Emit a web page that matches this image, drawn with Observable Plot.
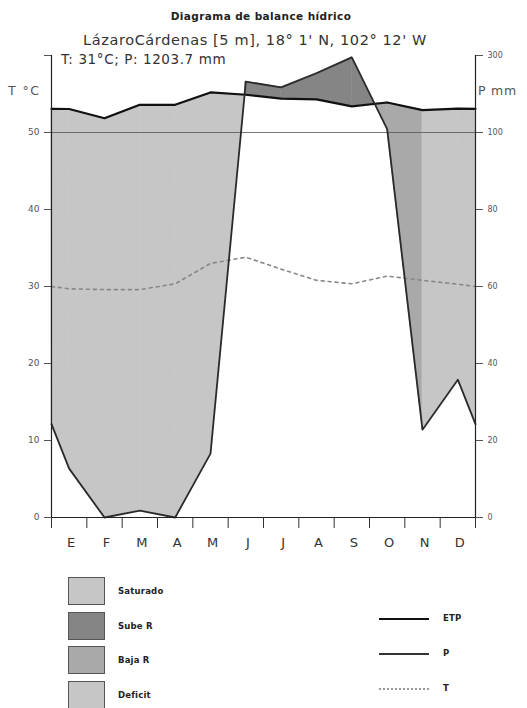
<!DOCTYPE html>
<html><head><meta charset="utf-8">
<script src="https://cdn.jsdelivr.net/npm/d3@7"></script>
<script src="https://cdn.jsdelivr.net/npm/@observablehq/plot@0.6"></script>
<style>
body{margin:0;background:#fff;font-family:"DejaVu Sans",sans-serif;}
#wrap{position:relative;width:527px;height:708px;overflow:hidden;background:#fff;}
#chart{position:absolute;left:0;top:0;}
.t{position:absolute;white-space:nowrap;color:#222;line-height:1;}
.box{position:absolute;width:35px;height:26px;border:1.5px solid #555;}
.lab{position:absolute;font-size:8.5px;font-weight:bold;color:#222;line-height:1;letter-spacing:0.2px;}
.ln{position:absolute;width:50px;height:0;}
</style></head><body><div id="wrap"><div id="chart"></div></div>
<script>
// ---- data ----
const meses  = ["E","F","M","A","M","J","J","A","S","O","N","D"];
const precip = [12.7, 0, 1.8, 0, 16.6, 232, 217, 254, 295, 109, 22.8, 35.8]; // mm
const etp    = [161, 137, 172, 172, 204, 198, 188, 186, 168, 178, 158, 162];  // mm
const temp   = [29.7, 29.6, 29.6, 30.35, 33.0, 33.8, 32.25, 30.8, 30.35, 31.35, 30.8, 30.3]; // °C
const tTicks = [0, 10, 20, 30, 40, 50];
const pTicks = [0, 20, 40, 60, 80, 100, 300];
const categorias = ["Saturado", "Sube R", "Baja R", "Deficit"];
const colores    = ["#c6c6c6", "#858585", "#a9a9a9", "#c6c6c6"];
const finRecarga = "S";   // last month of recharge (index 8)
const finBaja    = "N";   // reserve exhausted at this month (index 10)

// Walter-Lieth scale: P<=100 -> P/2 ; above 100 compressed 1/10
const toEq = p => p <= 100 ? p / 2 : 50 + (p - 100) / 20;

const xsC = meses.map((m, i) => i + 0.5);
const edge = a => (a[0] + a[a.length - 1]) / 2;
const xs = [0, ...xsC, 12];
const P = [edge(precip), ...precip, edge(precip)];
const E = [edge(etp), ...etp, edge(etp)];
const T = [edge(temp), ...temp, edge(temp)];

const pts = xs.map((x, i) => ({x, p: toEq(P[i]), e: toEq(E[i]), t: T[i]}));
const xRec = 8 + 0.5, xBaja = 10 + 0.5;

// split into sub-intervals at crossings
const areas = [];
let z = 0;
for (let i = 0; i < pts.length - 1; i++) {
  const a = pts[i], b = pts[i + 1];
  const da = a.p - a.e, db = b.p - b.e;
  const pieces = [a];
  if (da * db < 0) {
    const t = da / (da - db);
    const x = a.x + t * (b.x - a.x), y = a.p + t * (b.p - a.p);
    pieces.push({x, p: y, e: y});
  }
  pieces.push(b);
  for (let k = 0; k < pieces.length - 1; k++) {
    const u = pieces[k], v = pieces[k + 1];
    const xm = (u.x + v.x) / 2;
    const dm = (u.p + v.p) / 2 - (u.e + v.e) / 2;
    const cat = dm > 0 ? "Sube R" : (xm > xRec && xm < xBaja ? "Baja R" : "Deficit");
    areas.push({x: u.x, y1: u.p, y2: u.e, z, cat});
    areas.push({x: v.x, y1: v.p, y2: v.e, z, cat});
    z++;
  }
}

const pLabel = new Map(pTicks.map(v => [toEq(v), String(v)]));

const chart = Plot.plot({
  width: 527, height: 560,
  marginLeft: 51, marginRight: 52, marginTop: 55, marginBottom: 43,
  style: {fontFamily: "DejaVu Sans, sans-serif", background: "#fff", overflow: "visible"},
  x: {domain: [0, 12]},
  y: {domain: [0, 60]},
  color: {domain: categorias.slice(1), range: colores.slice(1)},
  marks: [
    Plot.areaY(areas, {x: "x", y1: "y1", y2: "y2", z: "z", fill: "cat", stroke: "cat", strokeWidth: 0.6, curve: "linear"}),
    Plot.ruleY([50], {stroke: "#555", strokeWidth: 0.8}),
    Plot.line(pts, {x: "x", y: "t", stroke: "#888", strokeWidth: 1.6, strokeDasharray: "3,4"}),
    Plot.line(pts, {x: "x", y: "e", stroke: "#111", strokeWidth: 2.2}),
    Plot.line(pts, {x: "x", y: "p", stroke: "#2a2a2a", strokeWidth: 1.8}),
    Plot.ruleX([0, 12], {stroke: "#222", strokeWidth: 1.2}),
    Plot.ruleY([0], {stroke: "#222", strokeWidth: 1.2}),
    Plot.axisY({anchor: "left", ticks: [...tTicks, 60], tickFormat: d => d === 60 ? "" : String(d),
      tickSize: 7, tickPadding: 5, fontSize: 9, color: "#555", label: null}),
    Plot.axisY({anchor: "right", ticks: pTicks.map(toEq), tickFormat: d => pLabel.get(d),
      tickSize: 7, tickPadding: 5, fontSize: 8, color: "#555", label: null}),
    Plot.axisX({ticks: d3.range(0, 13), tickFormat: () => "", tickSize: 11, color: "#333", label: null}),
    Plot.axisX({ticks: xsC, tickFormat: d => meses[Math.floor(d)], tickSize: 0, tickPadding: 20,
      fontSize: 13, color: "#333", label: null, dx: 2})
  ]
});
document.getElementById("chart").appendChild(chart);

// ---- texts ----
const wrap = document.getElementById("wrap");
function addText(txt, css) {
  const d = document.createElement("div");
  d.className = "t"; d.textContent = txt; d.style.cssText += css; wrap.appendChild(d); return d;
}
addText("Diagrama de balance hídrico", "left:0;width:522px;text-align:center;top:11px;font-size:10.5px;font-weight:bold;letter-spacing:0.4px;");
addText("LázaroCárdenas [5 m], 18° 1' N, 102° 12' W", "left:0;width:510px;text-align:center;top:33px;font-size:14.5px;letter-spacing:0.6px;color:#333;");
addText("T: 31°C; P: 1203.7 mm", "left:61px;top:53px;font-size:13.5px;letter-spacing:0.6px;color:#333;");
addText("T °C", "left:8px;top:85px;font-size:12.5px;letter-spacing:1.5px;color:#555;");
addText("P mm", "left:478px;top:85px;font-size:12.5px;letter-spacing:0.8px;color:#555;");

// ---- legend ----
const boxY = [577, 612, 646, 681];
categorias.forEach((c, i) => {
  const b = document.createElement("div");
  b.className = "box"; b.style.left = "68px"; b.style.top = boxY[i] + "px"; b.style.background = colores[i];
  wrap.appendChild(b);
  const l = document.createElement("div");
  l.className = "lab"; l.textContent = c; l.style.left = "118px"; l.style.top = (boxY[i] + 10) + "px";
  wrap.appendChild(l);
});
const lineLeg = [["ETP", 618, "2.5px solid #111"], ["P", 653, "2px solid #333"], ["T", 688, "2px dotted #999"]];
lineLeg.forEach(([name, y, border]) => {
  const l = document.createElement("div");
  l.className = "ln"; l.style.left = "379px"; l.style.top = y + "px"; l.style.borderTop = border;
  wrap.appendChild(l);
  const t = document.createElement("div");
  t.className = "lab"; t.textContent = name; t.style.left = "443px"; t.style.top = (y - 4) + "px";
  wrap.appendChild(t);
});
</script></body></html>
